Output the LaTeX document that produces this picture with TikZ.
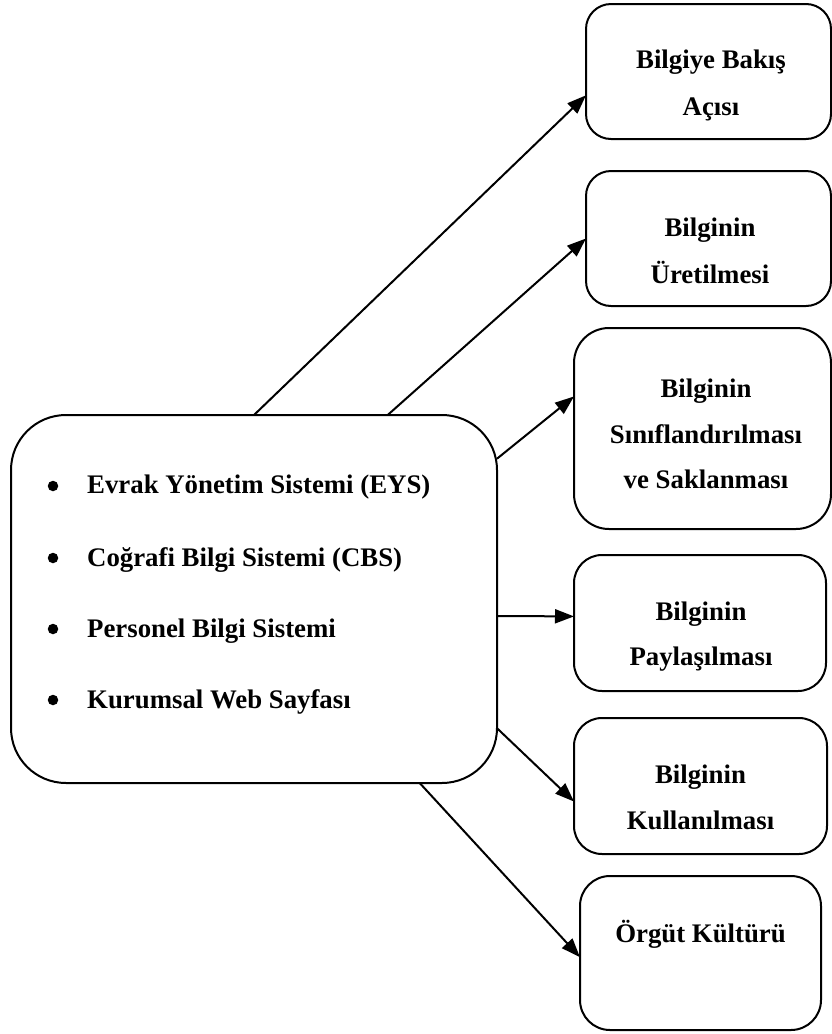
\documentclass[tikz,border=0pt]{standalone}
\usepackage{fontspec}
\setmainfont{Liberation Serif}
\usetikzlibrary{arrows.meta}
\begin{document}
\begin{tikzpicture}[x=1pt,y=1pt,
  box/.style={draw, line width=2pt, rounded corners=#1, inner sep=0pt, outer sep=0pt},
  box/.default=25pt,
  lbl/.style={font=\fontsize{26.8}{30}\selectfont\bfseries, anchor=base, inner sep=0pt},
  item/.style={font=\fontsize{26.8}{30}\selectfont\bfseries, anchor=base west, inner sep=0pt},
  bul/.style={circle, fill, inner sep=0pt, minimum size=10.5pt},
  conn/.style={line width=2pt, -{Triangle[length=19pt,width=14pt]}}]
\useasboundingbox (0,0) rectangle (832,-1034);
% boxes
\node[box=55pt, minimum width=486pt, minimum height=368pt] (main) at (254,-599) {};
\node[box=25pt, minimum width=245pt, minimum height=135pt] (b1) at (708.5,-71.5) {};
\node[box=25pt, minimum width=245pt, minimum height=135pt] (b2) at (708.5,-238.5) {};
\node[box=35pt, minimum width=257pt, minimum height=201pt] (b3) at (702.5,-428.5) {};
\node[box=28pt, minimum width=252pt, minimum height=136pt] (b4) at (700,-623) {};
\node[box=28pt, minimum width=253pt, minimum height=136pt] (b5) at (700.5,-786) {};
\node[box=30pt, minimum width=241pt, minimum height=154pt] (b6) at (700.5,-953) {};
% box texts
\node[lbl] (t1a) at (711,-68) {Bilgiye Bakış};
\node[lbl] (t1b) at (711,-115) {Açısı};
\node[lbl] (t2a) at (710,-236) {Bilginin};
\node[lbl] (t2b) at (710,-283) {Üretilmesi};
\node[lbl] (t3a) at (706,-397) {Bilginin};
\node[lbl] (t3b) at (706,-443) {Sınıflandırılması};
\node[lbl] (t3c) at (706,-488) {ve Saklanması};
\node[lbl] (t4a) at (701,-620) {Bilginin};
\node[lbl] (t4b) at (701,-665) {Paylaşılması};
\node[lbl] (t5a) at (700.5,-783) {Bilginin};
\node[lbl] (t5b) at (700.5,-829) {Kullanılması};
\node[lbl] (t6a) at (700.5,-942) {Örgüt Kültürü};
% list
\node[bul] (u1) at (53,-486) {};
\node[bul] (u2) at (53,-558) {};
\node[bul] (u3) at (53,-629) {};
\node[bul] (u4) at (53,-700) {};
\node[item] (l1) at (87,-493) {Evrak Yönetim Sistemi (EYS)};
\node[item] (l2) at (87,-566) {Coğrafi Bilgi Sistemi (CBS)};
\node[item] (l3) at (87,-637) {Personel Bilgi Sistemi};
\node[item] (l4) at (87,-708) {Kurumsal Web Sayfası};
% connectors
\draw[conn] (main.north) -- (b1.191.8);
\draw[conn] (main.54) -- (b2.west);
\draw[conn] (main.30.3) -- (b3.166.2);
\draw[conn] (main.-4.2) -- (b4.177.3);
\draw[conn] (main.-28.7) -- (b5.187.2);
\draw[conn] (main.-48) -- (b6.182.4);
\end{tikzpicture}
\end{document}
